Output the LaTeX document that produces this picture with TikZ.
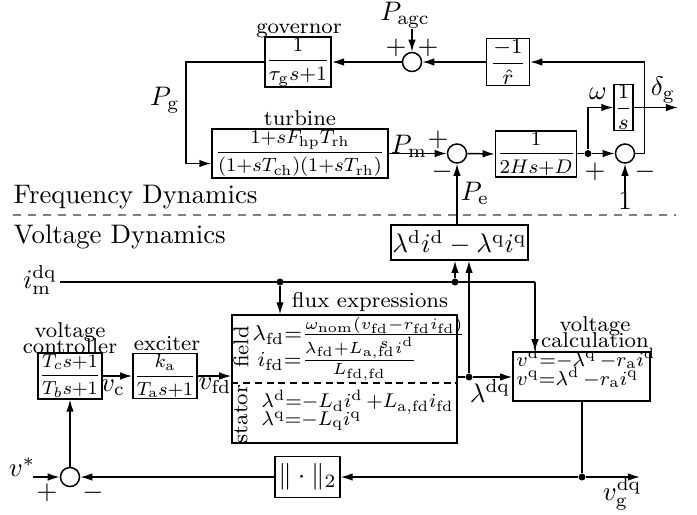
\documentclass[tikz,border=0pt]{standalone}
\usepackage{amsmath}
\usepackage{graphicx}
\usetikzlibrary{arrows.meta,calc}
\newcommand{\bx}[2][0.9]{\scalebox{#1}{$\displaystyle #2$}}
\begin{document}
\begin{tikzpicture}[x=0.373pt,y=-0.373pt,line width=0.55pt,
  >={Latex[length=4.5pt,width=2.8pt]},
  blk/.style={draw,inner sep=0.4pt,font=\footnotesize},
  sumc/.style={draw,circle,minimum size=7.1pt,inner sep=0pt},
  jdot/.style={circle,fill,inner sep=0pt,minimum size=2.6pt},
  lbl/.style={font=\footnotesize,align=center,inner sep=0pt},
  sig/.style={inner sep=0pt},
  sep/.style={draw=gray,dashed,dash pattern=on 3pt off 2.6pt}]
\useasboundingbox (0,0) rectangle (697,514);
% ---------- frequency dynamics ----------
\node[lbl] (govl) at (299,31) {governor};
\node[blk,minimum width=23.9pt,minimum height=15.3pt] (G) at (298,62) {\bx[0.95]{\frac{1}{\tau_{\mathrm g}s{+}1}}};
\node[sumc] (S1) at (412,62) {};
\node[sig] (Pagc) at (405,15) {$P_{\mathrm{agc}}$};
\node[sig] at (396,48) {$+$};
\node[sig] at (428,48) {$+$};
\node[blk,minimum width=16pt,minimum height=14.9pt] (R) at (508,62) {$\dfrac{-1}{\hat r}$};
\node[sig] (Pg) at (165,100) {$P_{\mathrm g}$};
\node[lbl] (turbl) at (300,118) {turbine};
\node[blk,minimum width=65.6pt,minimum height=17.9pt] (T) at (300,153.5) {\bx[0.9]{\frac{1{+}sF_{\mathrm{hp}}T_{\mathrm{rh}}}{(1{+}sT_{\mathrm{ch}})(1{+}sT_{\mathrm{rh}})}}};
\node[sumc] (Sm) at (457,153.5) {};
\node[sig] (Pm) at (409,146) {$P_{\mathrm m}$};
\node[sig] at (438,140) {$+$};
\node[sig] at (442,172) {$-$};
\node[blk,minimum width=29.8pt,minimum height=17.2pt] (D) at (536,154) {\bx[0.92]{\frac{1}{2Hs{+}D}}};
\node[jdot] (d1) at (588,153.5) {};
\node[sumc] (Sr) at (625,153.5) {};
\node[sig] at (595,172) {$+$};
\node[sig] at (645,172) {$-$};
\node[blk,minimum width=6.3pt,minimum height=16.8pt,inner sep=0.2pt] (I) at (623.5,107.5) {$\dfrac{1}{s}$};
\node[sig] (om) at (598,94) {$\omega$};
\node[sig] (dg) at (663,90) {$\delta_{\mathrm g}$};
\coordinate (dgo) at (678,107.5);
\node[sig] (one) at (625,201) {$1$};
\node[sig] (Pe) at (475,193) {$P_{\mathrm e}$};
\draw[->] (S1.west) -- (G.east);
\draw[->] (R.west) -- (S1.east);
\draw[->] (Sr.east) -- ++(9,0) |- (R.east);
\draw[->] (S1.north |- Pagc.south) -- (S1.north);
\draw[->] (G.west) -| (186,163.5) -- ($(T.west)+(0,10)$);
\draw[->] (T.east) -- (Sm.west);
\draw[->] (Sm.east) -- (D.west);
\draw (D.east |- d1) -- (d1);
\draw[->] (d1) -- (Sr.west);
\draw[->] (d1) |- (I.west);
\draw[->] (I.east) -- (dgo);
\draw[->] (one.north) -- (Sr.south);
% ---------- separator ----------
\node[sig,anchor=base west] (fd) at (13,203) {Frequency Dynamics};
\node[sig,anchor=base west] (vd) at (13,243) {Voltage Dynamics};
\draw[sep] (13,215) -- (676,215);
% ---------- voltage dynamics ----------
\node[blk,font=\normalsize,minimum width=51.1pt,minimum height=13.1pt] (L) at (459.5,242.5) {$\lambda^{\mathrm d}i^{\mathrm d}-\lambda^{\mathrm q}i^{\mathrm q}$};
\draw[->] (L.north -| Sm) -- (Sm.south);
\node[sig] (im) at (40,280) {$i_{\mathrm m}^{\mathrm{dq}}$};
\coordinate (im0) at (60,282);
\node[jdot] (j1) at (280,282) {};
\node[jdot] (j2) at (455,282) {};
\coordinate (j3) at (535,282);
\node[lbl] (fluxl) at (370,302) {flux expressions};
\node[draw,minimum width=83.9pt,minimum height=47.7pt,inner sep=0pt] (F) at (344.5,379) {};
\draw[dashed,dash pattern=on 2.6pt off 1.8pt] (F.west |- 0,383) -- (F.east |- 0,383);
\node[lbl,rotate=90] (fieldl) at (241,347) {field};
\node[lbl,rotate=90] (statl) at (241,414) {stator};
\node[sig,anchor=west,font=\footnotesize] (e1) at (252,333) {$\lambda_{\mathrm{fd}}{=}\frac{\omega_{\mathrm{nom}}(v_{\mathrm{fd}}-r_{\mathrm{fd}}i_{\mathrm{fd}})}{s}$};
\node[sig,anchor=west,font=\footnotesize] (e2) at (257,359) {$i_{\mathrm{fd}}{=}\frac{\lambda_{\mathrm{fd}}+L_{\mathrm{a,fd}}i^{\mathrm d}}{L_{\mathrm{fd,fd}}}$};
\node[sig,anchor=west,font=\footnotesize] (e3) at (261,402) {\scalebox{0.93}{$\lambda^{\mathrm d}{=}{-}L_{\mathrm d}i^{\mathrm d}\,{+}L_{\mathrm{a,fd}}i_{\mathrm{fd}}$}};
\node[sig,anchor=west,font=\footnotesize] (e4) at (261,421) {\scalebox{0.93}{$\lambda^{\mathrm q}{=}{-}L_{\mathrm q}i^{\mathrm q}$}};
\node[lbl] (vcl) at (70,338) {voltage\\[-3.5pt]controller};
\node[blk,minimum width=23.9pt,minimum height=15.7pt] (C) at (70,376) {\bx[0.88]{\frac{T_c s{+}1}{T_b s{+}1}}};
\node[lbl,anchor=base] (excl) at (167,350) {exciter};
\node[blk,minimum width=23.9pt,minimum height=15.7pt] (E) at (165,376) {\bx[0.88]{\frac{k_{\mathrm a}}{T_{\mathrm a}s{+}1}}};
\node[sig] (vc) at (113,388) {$v_{\mathrm c}$};
\node[sig] (vfd) at (215,386) {$v_{\mathrm{fd}}$};
\node[lbl] (vcal) at (595,332) {voltage\\[-3.5pt]calculation};
\node[draw,minimum width=51.1pt,minimum height=18.3pt,inner sep=0pt] (V) at (581.5,376.5) {};
\node[sig,anchor=base west,font=\footnotesize] (v1) at (516,366) {\scalebox{0.94}{$v^{\mathrm d}{=}{-}\lambda^{\mathrm q}\,{-}r_{\mathrm a}i^{\mathrm d}$}};
\node[sig,anchor=base west,font=\footnotesize] (v2) at (516,385) {\scalebox{0.94}{$v^{\mathrm q}{=}\lambda^{\mathrm d}\,{-}r_{\mathrm a}i^{\mathrm q}$}};
\node[jdot] (j4) at (469,377) {};
\node[sig] (ldq) at (490,391) {$\lambda^{\mathrm{dq}}$};
\node[sumc] (Sb) at (70,477) {};
\node[sig] (vs) at (22,467) {$v^{*}$};
\coordinate (vs0) at (33,477);
\node[sig] at (47,493) {$+$};
\node[sig] at (93,493) {$-$};
\node[blk,font=\normalsize,minimum width=24.2pt,minimum height=15.3pt] (N) at (307.5,477) {$\|\cdot\|_2$};
\node[jdot] (j5) at (582,477) {};
\coordinate (vgo) at (640,477);
\node[sig] (vg) at (622,494) {$v_{\mathrm g}^{\mathrm{dq}}$};
% connectors
\draw (im0) -- (j3);
\draw[->] (j1) -- (j1 |- F.north);
\draw[->] (j2) -- (j2 |- L.south);
\draw[->] (j3) -- (j3 |- V.north);
\draw (j4 -| F.east) -- (j4);
\draw[->] (j4) -- (j4 -| V.west);
\draw[->] (j4) -- (j4 |- L.south);
\draw[->] (C.east) -- (E.west);
\draw[->] (E.east) -- (E.east -| F.west);
\draw[->] (vs0) -- (Sb.west);
\draw[->] (Sb.north) -- (C.south);
\draw[->] (N.west) -- (Sb.east);
\draw (j5 |- V.south) -- (j5);
\draw[->] (j5) -- (N.east);
\draw[->] (j5) -- (vgo);
\end{tikzpicture}
\end{document}
